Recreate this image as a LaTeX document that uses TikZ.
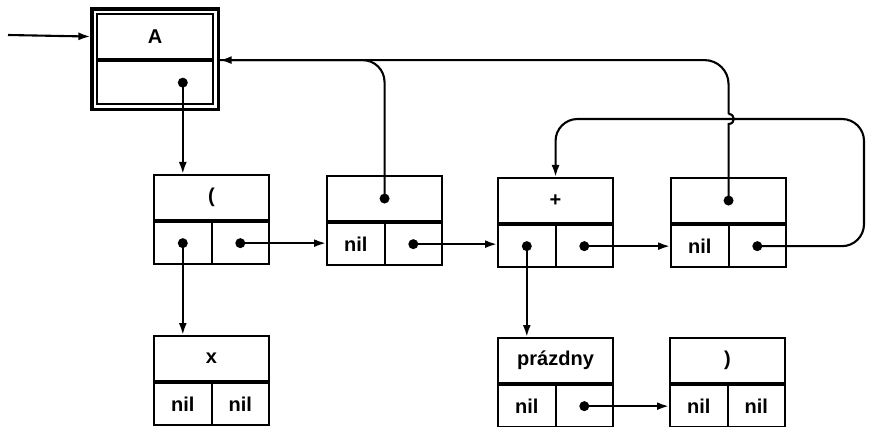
\documentclass[tikz,border=0pt]{standalone}
\usepackage{fontspec}
\setmainfont{Liberation Sans}
\usetikzlibrary{arrows.meta,fit,calc}
\tikzset{
  cellline/.style={line width=2.1pt},
  topcell/.style={draw, cellline, minimum width=115pt, minimum height=45pt, inner sep=0pt, anchor=north west, font=\fontsize{20}{22}\selectfont\bfseries},
  botcell/.style={draw, cellline, minimum width=57.5pt, minimum height=42pt, inner sep=0pt, font=\fontsize{20}{22}\selectfont\bfseries},
  conn/.style={line width=2.1pt},
  arr/.style={conn, -{Latex[length=12pt,width=8pt]}},
  dot/.style={fill=black}
}
\newcommand{\listcell}[6]{%
  \node[topcell] (#1t) at (#2,#3) {#4};
  \node[botcell, anchor=north west] (#1l) at (#1t.south west) {#5};
  \node[botcell, anchor=north east] (#1r) at (#1t.south east) {#6};
}
\begin{document}
\begin{tikzpicture}[x=1pt,y=-1pt]
\useasboundingbox (0,0) rectangle (869,427);
% head box A
\node[topcell, minimum width=116pt] (At) at (96,13) {A};
\node[botcell, minimum width=116pt, minimum height=43pt, anchor=north west] (Ab) at (At.south west) {};
\node[fit=(At)(Ab), inner sep=4pt, draw, line width=3.2pt] (Aframe) {};
% list cells
\listcell{n1}{153}{174}{(}{}{}
\listcell{n2}{326}{175}{}{nil}{}
\listcell{n3}{497}{177}{+}{}{}
\listcell{n4}{670}{177}{}{nil}{}
\listcell{nx}{153}{335}{x}{nil}{nil}
\listcell{np}{497}{337}{prázdny}{nil}{}
\listcell{nr}{669}{337}{)}{nil}{nil}
% coordinates
\coordinate (inA) at (8,35);
\coordinate (Adot) at (n1l.center |- Ab.center);
\coordinate (Aend) at (Aframe.east |- Ab.north);
\coordinate (loopR) at (864,119);
\coordinate (hop) at (n4t.center |- loopR);
\coordinate (hopB) at ($(hop)+(0,5)$);
\coordinate (hopC) at ($(hop)+(0,-5)$);
% dots
\foreach \d in {Adot, n1l.center, n1r.center, n2t.center, n2r.center, n3l.center, n3r.center, n4t.center, n4r.center, npr.center}
  \fill[dot] (\d) circle (5pt);
% connectors
\draw[arr] (inA) -- (Aframe.west |- At.center);
\draw[arr] (Adot) -- (Adot |- n1t.north);
\draw[arr] (n1l.center) -- (n1l.center |- nxt.north);
\draw[arr] (n1r.center) -- (n1r.center -| n2l.west);
\draw[arr] (n2r.center) -- (n2r.center -| n3l.west);
\draw[arr] (n3l.center) -- (n3l.center |- npt.north);
\draw[arr] (n3r.center) -- (n3r.center -| n4l.west);
\draw[arr] (npr.center) -- (npr.center -| nrl.west);
\draw[conn, rounded corners=22pt] (n2t.center) |- (Aend);
\draw[conn] (n4t.center) -- (hopB) .. controls ($(hopB)+(7,0)$) and ($(hopC)+(7,0)$) .. (hopC);
\draw[arr, rounded corners=24pt] (hopC) |- (Aend);
\draw[arr, rounded corners=22pt] (n4r.center) -| (loopR) -| (n3t.north);
\end{tikzpicture}
\end{document}
